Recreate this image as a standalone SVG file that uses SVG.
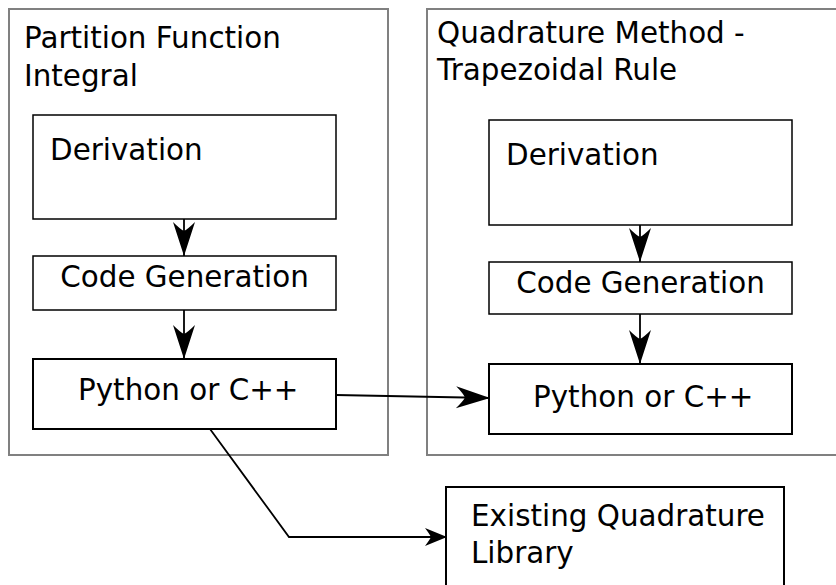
<svg xmlns="http://www.w3.org/2000/svg" width="836" height="585" viewBox="0 0 836 585">
<defs>
<style>
.cont{fill:#fff;stroke:#808080;stroke-width:2}
.box{fill:#fff;stroke:#000;stroke-width:1.5}
.box2{fill:#fff;stroke:#000;stroke-width:2}
text{font-family:"DejaVu Sans",sans-serif;font-size:29.4px;fill:#000}
.conn{fill:none;stroke:#000;stroke-width:1.8}
</style>
<marker id="ah" markerUnits="userSpaceOnUse" markerWidth="40" markerHeight="30" viewBox="-36 -15 40 30" refX="0" refY="0" orient="auto" overflow="visible">
<path d="M0,0 L-34,-11 Q-27,-4 -25,0 Q-27,4 -34,11 Z" fill="#000"/>
</marker>
<marker id="ahs" markerUnits="userSpaceOnUse" markerWidth="30" markerHeight="24" viewBox="-26 -12 30 24" refX="0" refY="0" orient="auto" overflow="visible">
<path d="M0,0 L-22,-9 Q-17.5,-3 -16,0 Q-17.5,3 -22,9 Z" fill="#000"/>
</marker>
</defs>
<rect width="836" height="585" fill="#fff"/>
<g id="container-partition">
<rect class="cont" x="9" y="9" width="379" height="446"/>
<text x="24" y="48">Partition Function</text>
<text x="24" y="86">Integral</text>
</g>
<g id="container-quadrature">
<rect class="cont" x="427" y="9" width="420" height="446"/>
<text x="437" y="43">Quadrature Method -</text>
<text x="437" y="80">Trapezoidal Rule</text>
</g>
<g id="left-derivation">
<rect class="box" x="33" y="115" width="303" height="104"/>
<text x="50" y="160">Derivation</text>
</g>
<g id="left-codegen">
<rect class="box" x="33" y="256" width="303" height="54"/>
<text x="184.5" y="287" text-anchor="middle">Code Generation</text>
</g>
<g id="left-python">
<rect class="box2" x="33" y="359" width="303" height="70"/>
<text x="78" y="400">Python or C++</text>
</g>
<g id="right-derivation">
<rect class="box" x="489" y="120" width="303" height="105"/>
<text x="506" y="165">Derivation</text>
</g>
<g id="right-codegen">
<rect class="box" x="489" y="262" width="303" height="52"/>
<text x="640.5" y="293" text-anchor="middle">Code Generation</text>
</g>
<g id="right-python">
<rect class="box2" x="489" y="364" width="303" height="70"/>
<text x="533" y="407">Python or C++</text>
</g>
<g id="existing-library">
<rect class="box2" x="446" y="487" width="338" height="110"/>
<text x="471" y="526">Existing Quadrature</text>
<text x="471" y="563">Library</text>
</g>
<g id="connectors">
<path class="conn" d="M184,219 L184,256" marker-end="url(#ah)"/>
<path class="conn" d="M184,310 L184,359" marker-end="url(#ah)"/>
<path class="conn" d="M640,225 L640,262" marker-end="url(#ah)"/>
<path class="conn" d="M640,314 L640,364" marker-end="url(#ah)"/>
<path class="conn" d="M336,395 L490,398" marker-end="url(#ah)"/>
<path class="conn" d="M210,429 L289,537 L447,537" marker-end="url(#ahs)"/>
</g>
</svg>
